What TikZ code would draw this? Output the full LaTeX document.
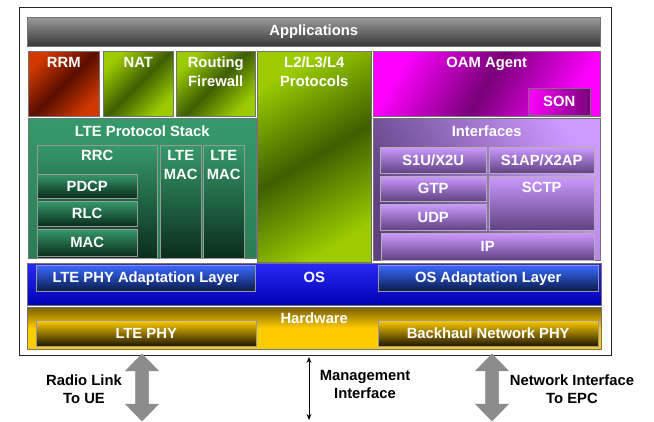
\documentclass[tikz,border=0pt]{standalone}
\usepackage{fontspec}
\setmainfont{Liberation Sans}
\usetikzlibrary{arrows.meta}

\definecolor{appTop}{HTML}{9A9A9A}
\definecolor{appBot}{HTML}{383838}
\definecolor{rrmHi}{HTML}{D03800}
\definecolor{rrmLo}{HTML}{5A0E00}
\definecolor{limeHi}{HTML}{9CCC00}
\definecolor{limeLo}{HTML}{3E5E00}
\definecolor{magHi}{HTML}{FF00FF}
\definecolor{magLo}{HTML}{780078}
\definecolor{tealHi}{HTML}{36996A}
\definecolor{tealMid}{HTML}{2A7D55}
\definecolor{tealLo}{HTML}{0A2C1C}
\definecolor{lavHi}{HTML}{CC99FF}
\definecolor{lavLo}{HTML}{604282}
\definecolor{blueHi}{HTML}{2A2AF5}
\definecolor{blueLo}{HTML}{0000B4}
\definecolor{boxBlueHi}{HTML}{3A6AFF}
\definecolor{boxBlueLo}{HTML}{0A1A4A}
\definecolor{goldHi}{HTML}{FFCC00}
\definecolor{goldLo}{HTML}{7A6000}
\definecolor{goldDark}{HTML}{1E1600}
\definecolor{arrowGray}{HTML}{8C8C8C}

\newcommand\lbfont{\fontsize{14.8}{18}\selectfont\bfseries}
% a block: name, x1, y1, x2, y2, style, text
\newcommand\blk[7]{\node[#6, minimum width={#4-#2}, minimum height={#5-#3},
  anchor=north west, inner sep=0pt, text=white, font=\lbfont] (#1) at (#2,#3) {#7};}

\tikzset{
  edge/.style={draw=black!55, line width=0.5pt},
  apps/.style={edge, top color=appTop, bottom color=appBot},
  redblk/.style={edge, left color=rrmHi, right color=rrmHi, middle color=rrmLo, shading angle=45},
  limeblk/.style={edge, left color=limeHi, right color=limeHi, middle color=limeLo, shading angle=45},
  protoblk/.style={edge, left color=limeHi, right color=limeHi, middle color=limeLo, shading angle=30},
  magblk/.style={edge, left color=magHi, right color=magHi, middle color=magLo, shading angle=60},
  sonblk/.style={edge, left color=magHi, right color=magLo, shading angle=90},
  tealblk/.style={edge, top color=tealHi, bottom color=tealMid},
  tealin/.style={draw=black!40, line width=0.4pt, top color=tealHi, bottom color=tealLo},
  lavblk/.style={edge, left color=lavLo, right color=lavHi, shading angle=120},
  lavin/.style={draw=black!30, line width=0.4pt, top color=lavHi, bottom color=lavLo},
  osblk/.style={edge, top color=blueHi, bottom color=blueLo},
  osin/.style={draw=black!40, line width=0.4pt, top color=boxBlueHi, bottom color=boxBlueLo},
  hwblk/.style={edge, top color=goldLo, bottom color=goldHi, middle color=goldHi},
  hwin/.style={draw=black!40, line width=0.4pt, top color=goldHi, bottom color=goldDark},
  lbl/.style={text=white, font=\lbfont, anchor=base, inner sep=0pt},
  extlbl/.style={text=black, font=\lbfont, anchor=base, inner sep=0pt},
  bigarrow/.pic={
    \filldraw[fill=arrowGray, draw=black!45, line width=0.5pt]
      (0,0) -- (16.5,17) -- (6.5,17) -- (6.5,50) -- (16.5,50) -- (0,67)
      -- (-16.5,50) -- (-6.5,50) -- (-6.5,17) -- (-16.5,17) -- cycle;
  }
}

\begin{document}
\begin{tikzpicture}[x=1pt,y=-1pt]
\useasboundingbox (0,0) rectangle (654,422);
\fill[white] (0,0) rectangle (654,422);

% outer frame
\node[draw=black!85, line width=0.8pt, minimum width=592, minimum height=348,
  anchor=north west, inner sep=0pt] (frame) at (19,7) {};

% application layer
\blk{apps}{27}{17}{600}{46}{apps}{Applications}
\blk{rrm}{28}{51}{99}{116}{redblk}{}
\blk{nat}{103}{51}{173}{116}{limeblk}{}
\blk{rfw}{176}{51}{255}{116}{limeblk}{}
\blk{proto}{257}{51}{371}{262}{protoblk}{}
\blk{oam}{373}{51}{600}{116}{magblk}{}
\blk{son}{528}{88}{590}{115}{sonblk}{SON}

\node[lbl] at ([yshift=-16.5]rrm.north) {RRM};
\node[lbl] at ([yshift=-16.5]nat.north) {NAT};
\node[lbl] at ([yshift=-16.5]rfw.north) {Routing};
\node[lbl] at ([yshift=-35.5]rfw.north) {Firewall};
\node[lbl] at ([yshift=-16.5]proto.north) {L2/L3/L4};
\node[lbl] at ([yshift=-35.5]proto.north) {Protocols};
\node[lbl] at ([yshift=-16.5]oam.north) {OAM Agent};

% LTE protocol stack
\blk{lte}{28}{118}{256}{258}{tealblk}{}
\node[lbl] at ([yshift=-18.5]lte.north) {LTE Protocol Stack};
\blk{rrc}{37}{145}{157}{258}{tealin}{}
\node[lbl] at ([yshift=-15.5]rrc.north) {RRC};
\blk{pdcp}{37}{174}{137}{198}{tealin}{PDCP}
\blk{rlc}{37}{201}{137}{226}{tealin}{RLC}
\blk{mac}{37}{229}{137}{256}{tealin}{MAC}
\blk{macA}{160}{145}{201}{258}{tealin}{}
\blk{macB}{203}{145}{244}{258}{tealin}{}
\node[lbl] at ([yshift=-15.5]macA.north) {LTE};
\node[lbl] at ([yshift=-34.5]macA.north) {MAC};
\node[lbl] at ([yshift=-15.5]macB.north) {LTE};
\node[lbl] at ([yshift=-34.5]macB.north) {MAC};

% interfaces
\blk{ifc}{373}{118}{600}{260}{lavblk}{}
\node[lbl] at ([yshift=-18.5]ifc.north) {Interfaces};
\blk{s1u}{380}{147}{486}{173}{lavin}{S1U/X2U}
\blk{s1ap}{489}{147}{594}{173}{lavin}{S1AP/X2AP}
\blk{gtp}{380}{176}{486}{201}{lavin}{GTP}
\blk{udp}{380}{204}{486}{230}{lavin}{UDP}
\blk{sctp}{489}{176}{594}{230}{lavin}{}
\node[lbl] at ([yshift=-16.5]sctp.north) {SCTP};
\blk{ip}{381}{233}{594}{260}{lavin}{IP}

% operating system
\blk{os}{27}{263}{601}{305}{osblk}{}
\node[lbl] at ([yshift=-19.5]os.north) {OS};
\blk{phyad}{36}{265}{255}{291}{osin}{LTE PHY Adaptation Layer}
\blk{osad}{378}{265}{598}{291}{osin}{OS Adaptation Layer}

% hardware
\blk{hw}{27}{307}{601}{349}{hwblk}{}
\node[lbl] at ([yshift=-16.5]hw.north) {Hardware};
\blk{phy}{36}{320}{256}{346}{hwin}{LTE PHY}
\blk{bh}{378}{320}{598}{346}{hwin}{Backhaul Network PHY}

% external interfaces
\coordinate (radio) at (142,354);
\coordinate (mgmtTop) at (309,357);
\coordinate (mgmtBot) at (309,420);
\coordinate (net) at (492,354);
\pic at (radio) {bigarrow};
\pic at (net) {bigarrow};
\draw[line width=0.9pt, {Stealth[length=6pt,width=5pt]}-{Stealth[length=6pt,width=5pt]}]
  (mgmtTop) -- (mgmtBot);

\node[extlbl] at (84,385.5) {Radio Link};
\node[extlbl] at (84,403.5) {To UE};
\node[extlbl] at (365,380.5) {Management};
\node[extlbl] at (365,398.5) {Interface};
\node[extlbl] at (572,385.5) {Network Interface};
\node[extlbl] at (572,403.5) {To EPC};
\end{tikzpicture}
\end{document}
